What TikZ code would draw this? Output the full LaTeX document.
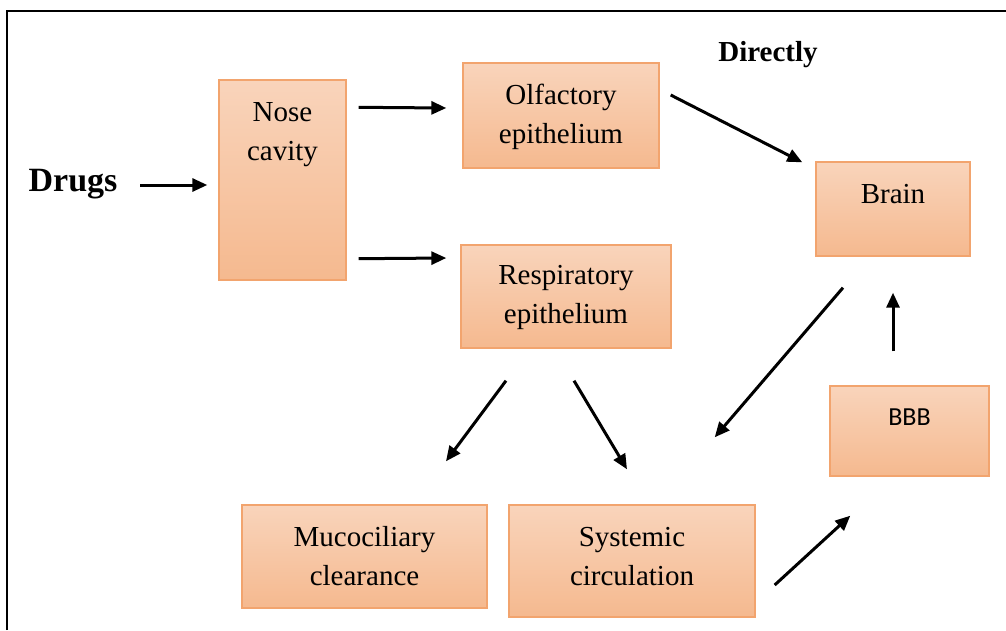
\documentclass[tikz,border=0pt]{standalone}
\usepackage{fontspec}
\setmainfont{Liberation Serif}
\newfontfamily\calib{Carlito}
\usetikzlibrary{arrows.meta,calc}
\definecolor{boxtop}{HTML}{F9D4BB}
\definecolor{boxbot}{HTML}{F5B98F}
\definecolor{boxline}{HTML}{F2A46E}
\tikzset{
  box/.style={draw=boxline, line width=1.4pt, top color=boxtop, bottom color=boxbot, inner sep=0pt, shading angle=0},
  lbl/.style={align=center, inner sep=0pt, font=\fontsize{29}{39}\selectfont},
  arr/.style={line width=3pt, -{Triangle[length=15pt,width=13pt]}},
}
\begin{document}
\begin{tikzpicture}[x=1pt,y=-1pt]
\useasboundingbox (0,0) rectangle (1006,630);
\draw[line width=2pt] (7,630) -- (7,11) -- (1006,11);
% boxes
\node[box, minimum width=127pt, minimum height=200pt] (nose) at (282.5,180) {};
\node[box, minimum width=196pt, minimum height=105pt] (olf) at (561,115.5) {};
\node[box, minimum width=210pt, minimum height=103pt] (resp) at (566,296.5) {};
\node[box, minimum width=154pt, minimum height=94pt] (brain) at (893,209) {};
\node[box, minimum width=159pt, minimum height=90pt] (bbb) at (909.5,431) {};
\node[box, minimum width=245pt, minimum height=103pt] (muco) at (364.5,556.5) {};
\node[box, minimum width=246pt, minimum height=112pt] (sys) at (632,561) {};
% labels
\node[lbl] (nosetxt) at ($(nose.north)+(0,55)$) {Nose\\cavity};
\node[lbl] (olftxt) at ($(olf.center)+(0,1)$) {Olfactory\\epithelium};
\node[lbl] (resptxt) at ($(resp.center)+(0,1)$) {Respiratory\\epithelium};
\node[lbl] (braintxt) at ($(brain.center)+(0,-15)$) {Brain};
\node[inner sep=0pt, font=\calib\fontsize{26}{30}\selectfont] (bbbtxt) at ($(bbb.center)+(0,-14)$) {BBB};
\node[lbl] (mucotxt) at (muco.center) {Mucociliary\\clearance};
\node[lbl] (systxt) at ($(sys.center)+(0,-4)$) {Systemic\\circulation};
\node[inner sep=0pt, font=\bfseries\fontsize{34}{38}\selectfont] (drugs) at (73,184) {Drugs};
\node[inner sep=0pt, font=\bfseries\fontsize{29}{34}\selectfont] (directly) at (768,55) {Directly};
% arrows
\draw[arr] ($(nose.west)+(-78,5)$) -- ($(nose.west)+(-11,5)$);
\draw[arr] ($(nose.north east)+(12,28)$) -- ($(olf.west)+(-16,-7.5)$);
\draw[arr] ($(nose.south east)+(12,-22)$) -- ($(resp.west)+(-14,-38.5)$);
\draw[arr] ($(olf.east)+(11,-20.5)$) -- ($(brain.north west)+(-13,1)$);
\draw[arr] ($(resp.south)+(-60,32)$) -- ($(muco.north)+(81.5,-43)$);
\draw[arr] ($(resp.south)+(8,32)$) -- ($(sys.north)+(-5,-35)$);
\draw[arr] ($(brain.south)+(-50,31)$) -- ($(sys.north east)+(-41,-67)$);
\draw[arr] ($(sys.east)+(19,24)$) -- ($(bbb.south west)+(21,39)$);
\draw[arr] ($(bbb.north)+(-16.5,-34)$) -- ($(brain.south)+(0,36)$);
\end{tikzpicture}
\end{document}
